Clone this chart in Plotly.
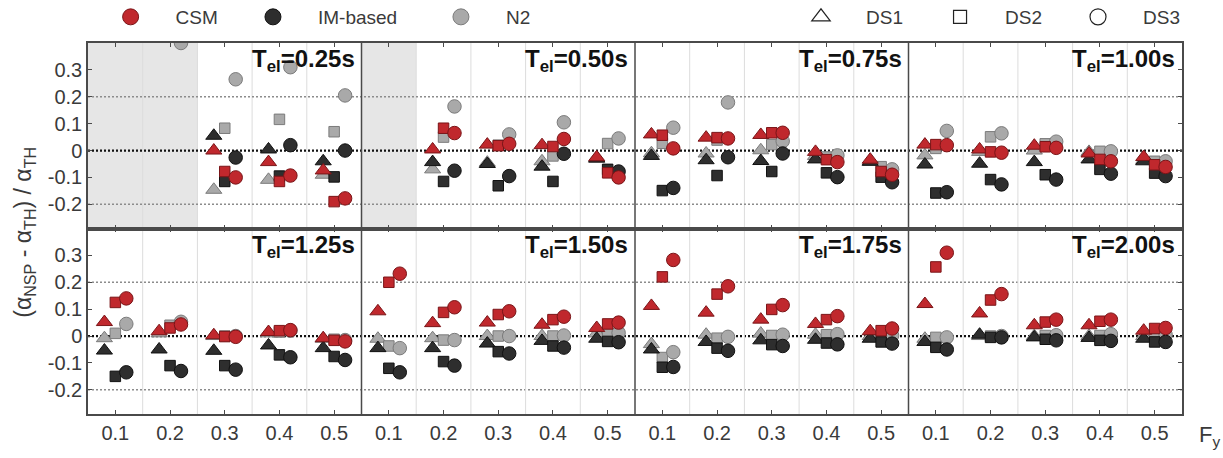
import plotly.graph_objects as go
from plotly.subplots import make_subplots

# ---------------- data ----------------
t_el_labels = ["0.25", "0.50", "0.75", "1.00", "1.25", "1.50", "1.75", "2.00"]
fy_labels = ["0.1", "0.2", "0.3", "0.4", "0.5"]
y_tick_vals = [-0.2, -0.1, 0, 0.1, 0.2, 0.3]
y_tick_text = ["-0.2", "-0.1", "0", "0.1", "0.2", "0.3"]

# one list of 5 values (Fy = 0.1..0.5) per T_el panel
csm_ds1 = [[None, None, 0.0, -0.043, -0.074], [None, 0.004, 0.022, 0.02, -0.025],
           [0.06, 0.048, 0.058, -0.005, -0.034], [0.022, 0.004, 0.018, -0.011, -0.024],
           [0.052, 0.018, 0.003, 0.015, -0.008], [0.092, 0.048, 0.05, 0.042, 0.03],
           [0.112, 0.087, 0.061, 0.045, 0.018], [0.119, 0.084, 0.04, 0.04, 0.02]]
csm_ds2 = [[None, None, -0.078, -0.115, -0.19], [None, 0.083, 0.018, 0.015, -0.083],
           [0.057, 0.048, 0.066, -0.034, -0.078], [0.022, -0.005, 0.014, -0.033, -0.053],
           [0.125, 0.03, -0.002, 0.02, -0.016], [0.2, 0.088, 0.08, 0.061, 0.045],
           [0.22, 0.156, 0.099, 0.061, 0.02], [0.257, 0.134, 0.052, 0.055, 0.028]]
csm_ds3 = [[None, None, -0.10, -0.093, -0.178], [None, 0.065, 0.025, 0.043, -0.10],
           [0.008, 0.045, 0.066, -0.043, -0.09], [0.02, -0.008, 0.01, -0.04, -0.061],
           [0.14, 0.043, -0.003, 0.022, -0.02], [0.232, 0.107, 0.092, 0.072, 0.05],
           [0.283, 0.185, 0.115, 0.074, 0.028], [0.31, 0.156, 0.061, 0.061, 0.03]]

im_ds1 = [[None, None, 0.055, 0.004, -0.04], [None, -0.043, -0.05, -0.06, -0.03],
          [-0.02, -0.036, -0.039, -0.033, -0.042], [-0.052, -0.049, -0.043, -0.033, -0.04],
          [-0.054, -0.05, -0.055, -0.035, -0.045], [-0.045, -0.045, -0.028, -0.018, -0.01],
          [-0.05, -0.022, -0.016, -0.014, -0.01], [-0.022, 0.005, -0.005, -0.007, -0.01]]
im_ds2 = [[None, None, -0.115, -0.095, -0.098], [None, -0.115, -0.131, -0.115, -0.07],
          [-0.149, -0.093, -0.078, -0.083, -0.099], [-0.158, -0.108, -0.09, -0.07, -0.084],
          [-0.15, -0.11, -0.11, -0.07, -0.076], [-0.12, -0.095, -0.058, -0.037, -0.02],
          [-0.116, -0.045, -0.032, -0.026, -0.022], [-0.042, -0.005, -0.012, -0.016, -0.022]]
im_ds3 = [[None, None, -0.026, 0.02, 0.0], [None, -0.075, -0.095, -0.012, -0.078],
          [-0.139, -0.025, -0.011, -0.099, -0.118], [-0.155, -0.126, -0.108, -0.086, -0.095],
          [-0.135, -0.13, -0.125, -0.079, -0.089], [-0.135, -0.11, -0.065, -0.043, -0.023],
          [-0.115, -0.055, -0.037, -0.031, -0.028], [-0.05, -0.005, -0.016, -0.018, -0.022]]

n2_ds1 = [[None, None, -0.146, -0.109, -0.09], [None, -0.07, -0.045, -0.04, -0.03],
          [-0.01, -0.011, 0.001, -0.02, -0.04], [-0.018, -0.005, 0.0, -0.005, -0.035],
          [-0.008, 0.01, 0.0, 0.01, -0.01], [-0.01, -0.008, 0.0, 0.0, 0.01],
          [-0.03, 0.005, 0.009, 0.005, 0.0], [-0.01, 0.0, 0.0, 0.0, 0.0]]
n2_ds2 = [[None, None, 0.083, 0.116, 0.07], [None, 0.05, 0.02, -0.02, 0.026],
          [0.027, 0.039, 0.022, -0.024, -0.06], [0.008, 0.051, 0.025, -0.003, -0.04],
          [0.01, 0.04, 0.0, 0.015, -0.012], [-0.037, -0.015, 0.0, 0.0, 0.012],
          [-0.08, -0.008, 0.002, 0.005, 0.002], [-0.005, 0.0, 0.002, 0.002, 0.002]]
n2_ds3 = [[None, 0.40, 0.265, 0.31, 0.205], [None, 0.164, 0.06, 0.105, 0.045],
          [0.085, 0.179, 0.035, -0.018, -0.07], [0.073, 0.064, 0.033, -0.003, -0.04],
          [0.045, 0.053, 0.0, 0.02, -0.015], [-0.045, -0.015, 0.0, 0.002, 0.012],
          [-0.06, -0.003, 0.005, 0.007, 0.002], [-0.005, 0.0, 0.003, 0.007, 0.005]]

# groups with no results (shaded): (panel index, Fy index)
shaded_groups = [(0, 0), (0, 1), (1, 0)]

# ---------------- styles ----------------
method_names = ["N2", "IM-based", "CSM"]          # drawing order
method_fill = {"CSM": "#c0282d", "IM-based": "#2e2e2e", "N2": "#a9a9a9"}
method_edge = {"CSM": "#7a1518", "IM-based": "#111111", "N2": "#7b7b7b"}
ds_names = ["DS1", "DS2", "DS3"]
ds_symbol = {"DS1": "triangle-up", "DS2": "square", "DS3": "circle"}
ds_size = {"DS1": 14, "DS2": 10.5, "DS3": 13.5}
ds_offset = {"DS1": -0.2, "DS2": 0.0, "DS3": 0.2}

series = {
    ("CSM", "DS1"): csm_ds1, ("CSM", "DS2"): csm_ds2, ("CSM", "DS3"): csm_ds3,
    ("IM-based", "DS1"): im_ds1, ("IM-based", "DS2"): im_ds2, ("IM-based", "DS3"): im_ds3,
    ("N2", "DS1"): n2_ds1, ("N2", "DS2"): n2_ds2, ("N2", "DS3"): n2_ds3,
}

n_fy = len(fy_labels)
n_cols = 4
FONT = "Liberation Sans, Arial, Helvetica, sans-serif"
TXT = "#3a3a3a"
AX = "#4a4a4a"

fig = make_subplots(rows=2, cols=1, shared_xaxes=True, vertical_spacing=0)

for m in method_names:
    for d in ds_names:
        vals = series[(m, d)]
        for row in range(2):
            xs, ys = [], []
            for p in range(n_cols):
                k = row * n_cols + p
                for g in range(n_fy):
                    xs.append(p * n_fy + g + 0.5 + ds_offset[d])
                    ys.append(vals[k][g])
            fig.add_trace(go.Scatter(
                x=xs, y=ys, mode="markers", showlegend=False, hoverinfo="skip",
                marker=dict(symbol=ds_symbol[d], size=ds_size[d], color=method_fill[m],
                            line=dict(color=method_edge[m], width=1)),
                cliponaxis=True), row=row + 1, col=1)

# legends (one small legend per entry, placed in container coordinates)
LEG_Y = 1 - 17 / 458
leg_pos_methods = {"CSM": 0.0700, "IM-based": 0.1864, "N2": 0.3401}
leg_pos_ds = {"DS1": 0.6345, "DS2": 0.7482, "DS3": 0.8610}
leg_idx = 1
legend_layouts = {}


def leg_layout(xpos):
    return dict(x=xpos, xref="container", xanchor="left", y=LEG_Y, yref="container",
                yanchor="middle", orientation="h", itemwidth=80, bgcolor="rgba(0,0,0,0)",
                font=dict(family=FONT, size=19, color=TXT))


for m in ["CSM", "IM-based", "N2"]:
    name = "legend" if leg_idx == 1 else f"legend{leg_idx}"
    fig.add_trace(go.Scatter(x=[None], y=[None], mode="markers", name=m, legend=name,
                             marker=dict(symbol="circle", size=16, color=method_fill[m],
                                         line=dict(color=method_edge[m], width=1))),
                  row=1, col=1)
    legend_layouts[name] = leg_layout(leg_pos_methods[m])
    leg_idx += 1
ds_leg_size = {"DS1": 16, "DS2": 13, "DS3": 16}
for d in ds_names:
    name = f"legend{leg_idx}"
    fig.add_trace(go.Scatter(x=[None], y=[None], mode="markers", name=d, legend=name,
                             marker=dict(symbol=ds_symbol[d] + "-open", size=ds_leg_size[d],
                                         color="#222222", line=dict(color="#222222", width=1.2))),
                  row=1, col=1)
    legend_layouts[name] = leg_layout(leg_pos_ds[d])
    leg_idx += 1
fig.update_layout(**legend_layouts)

# ---------------- shapes ----------------
shapes = []
yrefs = ["y", "y2"]
for row in range(2):
    # reference dotted lines
    shapes.append(dict(type="line", xref="x", yref=yrefs[row], x0=0, x1=n_cols * n_fy, y0=0.2, y1=0.2,
                       line=dict(color="#8c8c8c", width=1.5, dash="2px,2px"), layer="below"))
    shapes.append(dict(type="line", xref="x", yref=yrefs[row], x0=0, x1=n_cols * n_fy, y0=-0.2, y1=-0.2,
                       line=dict(color="#8c8c8c", width=1.5, dash="2px,2px"), layer="below"))
    shapes.append(dict(type="line", xref="x", yref=yrefs[row], x0=0, x1=n_cols * n_fy, y0=0, y1=0,
                       line=dict(color="#111111", width=2.2, dash="2px,2px"), layer="below"))
# shaded (no result) groups
for (k, g) in shaded_groups:
    row = k // n_cols
    p = k % n_cols
    shapes.append(dict(type="rect", xref="x", yref=yrefs[row] + " domain",
                       x0=p * n_fy + g, x1=p * n_fy + g + 1, y0=0, y1=1,
                       fillcolor="#e6e6e6", line=dict(width=0), layer="below"))
# group separators
for row in range(2):
    for b in range(1, n_cols * n_fy):
        if b % n_fy == 0:
            continue
        shapes.append(dict(type="line", xref="x", yref=yrefs[row] + " domain", x0=b, x1=b, y0=0, y1=1,
                           line=dict(color="#dcdcdc", width=1), layer="below"))
# panel separators
for p in range(1, n_cols):
    shapes.append(dict(type="line", xref="x", yref="paper", x0=p * n_fy, x1=p * n_fy, y0=0, y1=1,
                       line=dict(color=AX, width=1.5), layer="above"))
fig.update_layout(shapes=shapes)

# ---------------- annotations ----------------
ann = []
for k, t in enumerate(t_el_labels):
    row = k // n_cols
    p = k % n_cols
    ann.append(dict(text=f"<b>T<sub>el</sub>=" + t + "s</b>", xref="x", yref=yrefs[row] + " domain",
                    x=(p + 1) * n_fy - 0.09, y=1.0, xanchor="right", yanchor="top", showarrow=False,
                    font=dict(family=FONT, size=24, color="#111111")))
ann.append(dict(text="(α<sub>NSP</sub> - α<sub>TH</sub>) / α<sub>TH</sub>", xref="paper", yref="paper",
                x=-0.058, y=0.49, xanchor="center", yanchor="middle", textangle=-90, showarrow=False,
                font=dict(family=FONT, size=23, color=TXT)))
ann.append(dict(text="F<sub>y</sub>", xref="paper", yref="paper", x=1.0137, y=-0.016,
                xanchor="left", yanchor="top", showarrow=False,
                font=dict(family=FONT, size=22, color=TXT)))
fig.update_layout(annotations=ann)

# ---------------- axes ----------------
tick_x = [p * n_fy + g + 0.5 for p in range(n_cols) for g in range(n_fy)]
tick_txt = fy_labels * n_cols
for r in (1, 2):
    fig.update_xaxes(range=[0, n_cols * n_fy], tickvals=tick_x, ticktext=tick_txt,
                     ticks="inside", ticklen=4, tickcolor=AX, showline=True, linecolor=AX,
                     linewidth=1.5, mirror="ticks", showgrid=False, zeroline=False,
                     showticklabels=(r == 2), tickfont=dict(family=FONT, size=20, color=TXT),
                     row=r, col=1)
    fig.update_yaxes(range=[-0.29, 0.40], tickvals=y_tick_vals, ticktext=y_tick_text,
                     ticks="inside", ticklen=4, tickcolor=AX, showline=True, linecolor=AX,
                     linewidth=1.5, mirror="ticks", showgrid=False, zeroline=False,
                     tickfont=dict(family=FONT, size=20, color=TXT), row=r, col=1)

fig.update_layout(width=1223, height=458, margin=dict(l=88, r=41, t=43, b=44, autoexpand=False),
                  plot_bgcolor="white", paper_bgcolor="white",
                  font=dict(family=FONT, color=TXT))

fig.write_html("out.html")
